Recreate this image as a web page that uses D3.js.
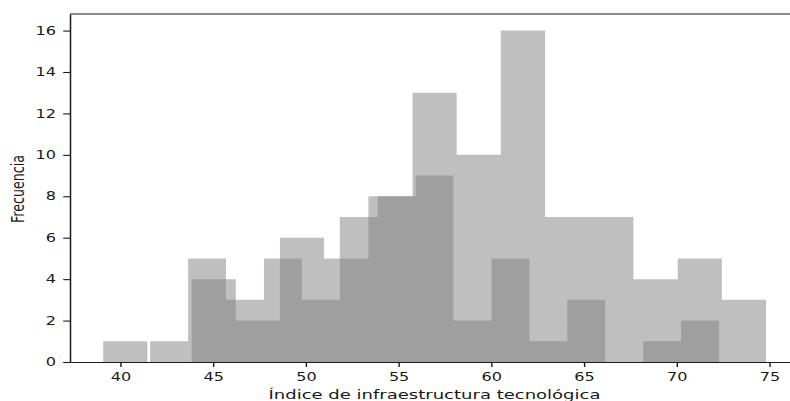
<!DOCTYPE html>
<html>
<head>
<meta charset="utf-8">
<script src="https://cdn.jsdelivr.net/npm/d3@7"></script>
<style>
  body { margin: 0; background: #fff; }
  text { font-family: "DejaVu Sans", sans-serif; fill: #1a1a1a; }
</style>
</head>
<body>
<div id="chart"></div>
<script>
// bin edges and counts for the two overlapping histograms
const edgesA = [41.60, 43.65, 45.69, 47.74, 49.78, 51.83, 53.87, 55.92, 57.96, 60.01, 62.05, 64.10, 66.14, 68.19, 70.23, 72.28];
const countsA = [1, 5, 3, 5, 3, 7, 8, 9, 2, 5, 1, 3, 0, 1, 2];

const edgesB = [39.07, 41.45, 43.84, 46.22, 48.60, 50.98, 53.37, 55.75, 58.13, 60.51, 62.90, 65.28, 67.66, 70.05, 72.43, 74.81];
const countsB = [1, 0, 4, 2, 6, 5, 8, 13, 10, 16, 7, 7, 4, 5, 3];

const xTicks = [40, 45, 50, 55, 60, 65, 70, 75];
const yTicks = [0, 2, 4, 6, 8, 10, 12, 14, 16];

const xLabel = "Índice de infraestructura tecnológica";
const yLabel = "Frecuencia";

// the picture is stretched sideways, so text gets widened too
const stretch = 1.4;

const margin = {top: 14, left: 70},
    plotW = 729,
    plotH = 348;

const svg = d3.select("#chart")
    .append("svg")
    .attr("width", 790)
    .attr("height", 401);

const g = svg.append("g")
    .attr("transform", `translate(${margin.left},${margin.top})`);

const x = d3.scaleLinear()
    .domain([37.28, 76.59])
    .range([0, plotW]);

const y = d3.scaleLinear()
    .domain([0, 16.8])
    .range([plotH, 0]);

function toBins(edges, counts) {
    return counts.map((c, i) => ({x0: edges[i], x1: edges[i + 1], n: c}));
}

// one path per histogram so neighbouring bars don't show hairline seams
function histPath(bins) {
    const p = d3.path();
    bins.filter(d => d.n > 0).forEach(d => {
        p.rect(x(d.x0), y(d.n), x(d.x1) - x(d.x0), y(0) - y(d.n));
    });
    return p.toString();
}

// both histograms in the same grey at half opacity
[toBins(edgesB, countsB), toBins(edgesA, countsA)].forEach(bins => {
    g.append("path")
        .attr("d", histPath(bins))
        .attr("fill", "#808080")
        .attr("fill-opacity", 0.5);
});

// X axis
const xAxis = g.append("g")
    .attr("transform", `translate(0,${plotH})`)
    .call(d3.axisBottom(x).tickValues(xTicks).tickSize(5).tickPadding(5.7).tickSizeOuter(0));
xAxis.select(".domain").attr("stroke", "#1a1a1a").attr("stroke-width", 1.1);
xAxis.selectAll(".tick line").attr("stroke", "#1a1a1a").attr("stroke-width", 1.4);
xAxis.selectAll("text")
    .attr("font-size", 11.5)
    .attr("transform", `scale(${stretch},1)`);

// Y axis
const yAxis = g.append("g")
    .call(d3.axisLeft(y).tickValues(yTicks).tickSize(6.8).tickSizeOuter(0));
yAxis.select(".domain").attr("stroke", "#1a1a1a").attr("stroke-width", 1.5);
yAxis.selectAll(".tick line").attr("stroke", "#1a1a1a").attr("stroke-width", 1.1);
yAxis.selectAll("text")
    .attr("font-size", 11.5)
    .attr("x", -10)
    .attr("transform", `scale(${stretch},1)`);

// top spine
g.append("line")
    .attr("x1", 0).attr("x2", plotW)
    .attr("y1", 0).attr("y2", 0)
    .attr("stroke", "#1a1a1a")
    .attr("stroke-width", 1.1);

// axis labels
svg.append("text")
    .attr("x", margin.left + plotW / 2)
    .attr("y", 398.5)
    .attr("text-anchor", "middle")
    .attr("font-size", 12.5)
    .attr("textLength", 332)
    .attr("lengthAdjust", "spacingAndGlyphs")
    .text(xLabel);

svg.append("text")
    .attr("transform", `translate(24,189) scale(${stretch},1) rotate(-90)`)
    .attr("text-anchor", "middle")
    .attr("font-size", 12.5)
    .attr("textLength", 68)
    .attr("lengthAdjust", "spacingAndGlyphs")
    .text(yLabel);
</script>
</body>
</html>
